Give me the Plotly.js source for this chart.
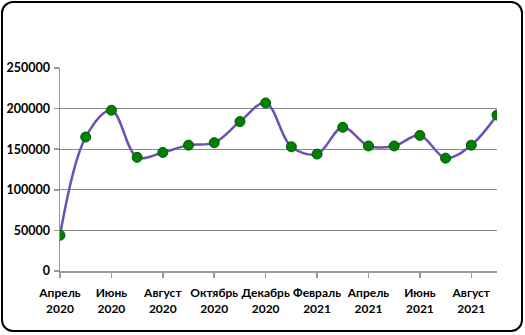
<!DOCTYPE html>
<html><head><meta charset="utf-8">
<script src="https://cdn.plot.ly/plotly-3.0.1.min.js"></script>
<style>
html,body{margin:0;padding:0;background:#fff;}
#wrap{position:relative;width:525px;height:335px;}
#chart{position:absolute;left:0;top:0;width:525px;height:335px;}
#frame{position:absolute;left:1px;top:1px;width:518px;height:327px;border:2px solid #000;border-radius:12px;pointer-events:none;}
</style></head>
<body>
<div id="wrap"><div id="chart"></div><div id="frame"></div></div>
<script>
const months = ["Апрель 2020","Май 2020","Июнь 2020","Июль 2020","Август 2020","Сентябрь 2020","Октябрь 2020","Ноябрь 2020","Декабрь 2020","Январь 2021","Февраль 2021","Март 2021","Апрель 2021","Май 2021","Июнь 2021","Июль 2021","Август 2021","Сентябрь 2021"];
const values = [44000,165000,198000,140000,146000,155000,158000,184000,207000,153000,144000,177000,154000,154000,167000,139000,155000,192000];
const tickIdx = [0,2,4,6,8,10,12,14,16];
const tickLabels = ["Апрель<br>2020","Июнь<br>2020","Август<br>2020","Октябрь<br>2020","Декабрь<br>2020","Февраль<br>2021","Апрель<br>2021","Июнь<br>2021","Август<br>2021"];
const yTicks = [0,50000,100000,150000,200000,250000];

const xIdx = months.map((m,i)=>i);
const trace = {
  x: xIdx, y: values, text: months, type:'scatter', mode:'lines+markers',
  line:{color:'#6a52b3', width:2.5, shape:'spline', smoothing:1},
  marker:{color:'#008000', size:10, line:{color:'#005a00', width:1}},
  hoverinfo:'text+y'
};
const font = {family:'Lato, "Open Sans", sans-serif', size:12, color:'#000', weight:700};
const layout = {
  width:525, height:335,
  margin:{l:60, r:28, t:68, b:64},
  paper_bgcolor:'#fff', plot_bgcolor:'#fff',
  showlegend:false,
  font: font,
  xaxis:{range:[0,17], tickmode:'array', tickvals:tickIdx, ticktext:tickLabels,
    showgrid:false, zeroline:false, showline:true, linecolor:'#999', linewidth:1.5,
    ticks:'outside', ticklen:5, tickcolor:'#999', tickwidth:1.5, tickangle:0,
    ticklabelstandoff:5,
    tickfont:{family:'Lato, "Open Sans", sans-serif', size:12, color:'#000', weight:700}},
  yaxis:{range:[0,250000], tickmode:'array', tickvals:yTicks, ticktext:yTicks.map(String),
    showgrid:true, gridcolor:'#888', gridwidth:1, zeroline:false,
    showline:true, linecolor:'#999', linewidth:1.5,
    ticks:'outside', ticklen:5, tickcolor:'#999', tickwidth:1.5,
    ticklabelstandoff:1,
    tickfont:{family:'Lato, "Open Sans", sans-serif', size:12.5, color:'#000', weight:700}}
};
Plotly.newPlot('chart',[trace],layout,{displayModeBar:false, staticPlot:true});
</script>
</body></html>
